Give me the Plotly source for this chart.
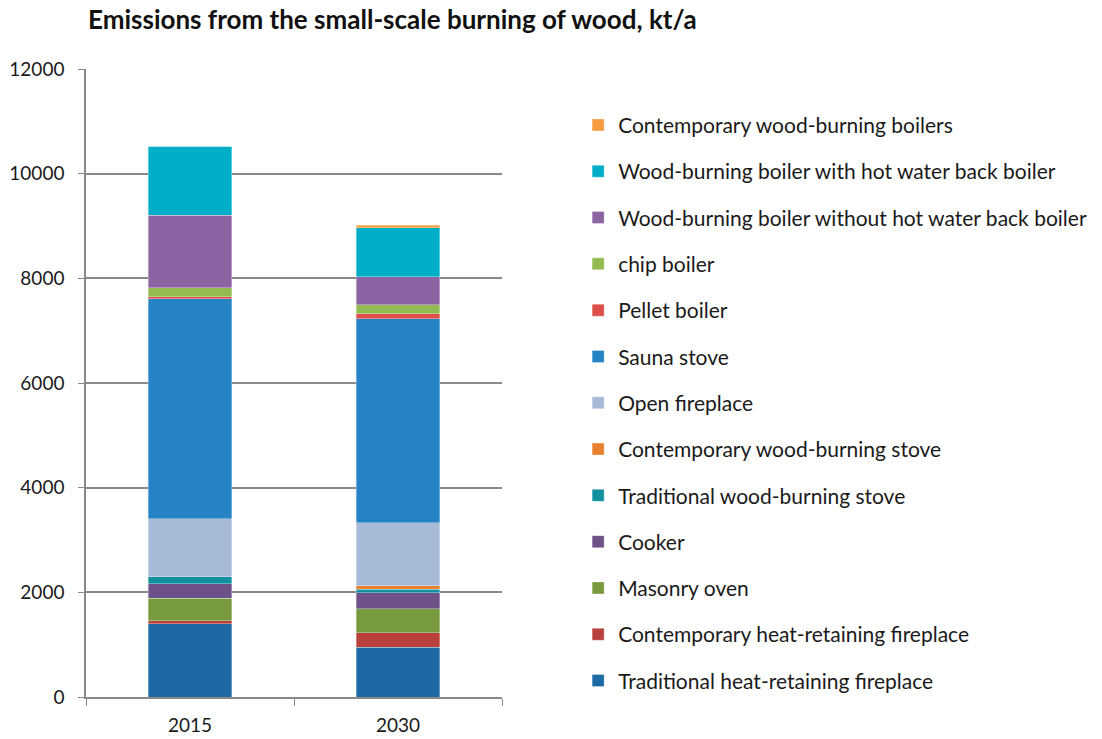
import plotly.graph_objects as go

years = ["2015", "2030"]
series_names = [
    "Traditional heat-retaining fireplace",
    "Contemporary heat-retaining fireplace",
    "Masonry oven",
    "Cooker",
    "Traditional wood-burning stove",
    "Contemporary wood-burning stove",
    "Open fireplace",
    "Sauna stove",
    "Pellet boiler",
    "chip boiler",
    "Wood-burning boiler without hot water back boiler",
    "Wood-burning boiler with hot water back boiler",
    "Contemporary wood-burning boilers",
]
traditional_heat = [1400, 950]
contemporary_heat = [60, 280]
masonry_oven = [430, 460]
cooker = [270, 300]
traditional_stove = [140, 65]
contemporary_stove = [0, 70]
open_fireplace = [1110, 1200]
sauna_stove = [4200, 3900]
pellet_boiler = [40, 100]
chip_boiler = [170, 170]
boiler_without = [1390, 540]
boiler_with = [1310, 930]
contemporary_boilers = [0, 50]

series_values = [
    traditional_heat, contemporary_heat, masonry_oven, cooker,
    traditional_stove, contemporary_stove, open_fireplace, sauna_stove,
    pellet_boiler, chip_boiler, boiler_without, boiler_with, contemporary_boilers,
]
colors = [
    "#1D69A3", "#B9403B", "#779A3E", "#6F5189", "#12909F", "#E8822F",
    "#A7BBD9", "#2683C6", "#DE4F4A", "#93BB52", "#8C64A4", "#00AFC7", "#F79B3F",
]

FONT = "Lato"
fig = go.Figure()
for i, (name, vals, col) in enumerate(zip(series_names, series_values, colors)):
    fig.add_trace(go.Bar(
        x=years, y=vals, name=name, legendgroup=name, legendrank=1000 - i,
        marker=dict(color=col, line=dict(width=0.6, color="rgba(255,255,255,0.55)")),
    ))

fig.update_layout(
    barmode="stack",
    bargap=0.6,
    width=1102, height=739,
    margin=dict(l=86, r=600, t=69, b=42, autoexpand=False),
    paper_bgcolor="white", plot_bgcolor="white",
    font=dict(family=FONT, size=18, color="#1a1a1a"),
    title=dict(text="<b>Emissions from the small-scale burning of wood, kt/a</b>",
               x=88/1102, xanchor="left", y=1-20/739, yanchor="middle",
               font=dict(family=FONT, size=26, color="#111")),
    showlegend=True,
    legend=dict(
        traceorder="grouped", tracegroupgap=16,
        x=1.183, xanchor="left", y=0.943, yanchor="top",
        font=dict(family=FONT, size=21, color="#1a1a1a"),
        itemwidth=30, bgcolor="rgba(0,0,0,0)", maxheight=700,
    ),
    xaxis=dict(
        range=[-0.5, 1.5], showline=True, linecolor="#898989", linewidth=1.5,
        ticks="outside", tickson="boundaries", ticklen=7, tickcolor="#898989",
        tickfont=dict(family=FONT, size=19, color="#1a1a1a"), showgrid=False,
        ticklabelstandoff=10, automargin=False,
    ),
    yaxis=dict(
        range=[0, 12000], dtick=2000, tickformat="d", showline=True,
        linecolor="#898989", linewidth=1.5,
        ticks="outside", ticklen=6, tickcolor="#898989",
        showgrid=True, gridcolor="#898989", gridwidth=1.5, zeroline=False,
        tickfont=dict(family=FONT, size=19, color="#1a1a1a"),
        ticklabelstandoff=10, automargin=False,
    ),
)

fig.write_html("out.html")
